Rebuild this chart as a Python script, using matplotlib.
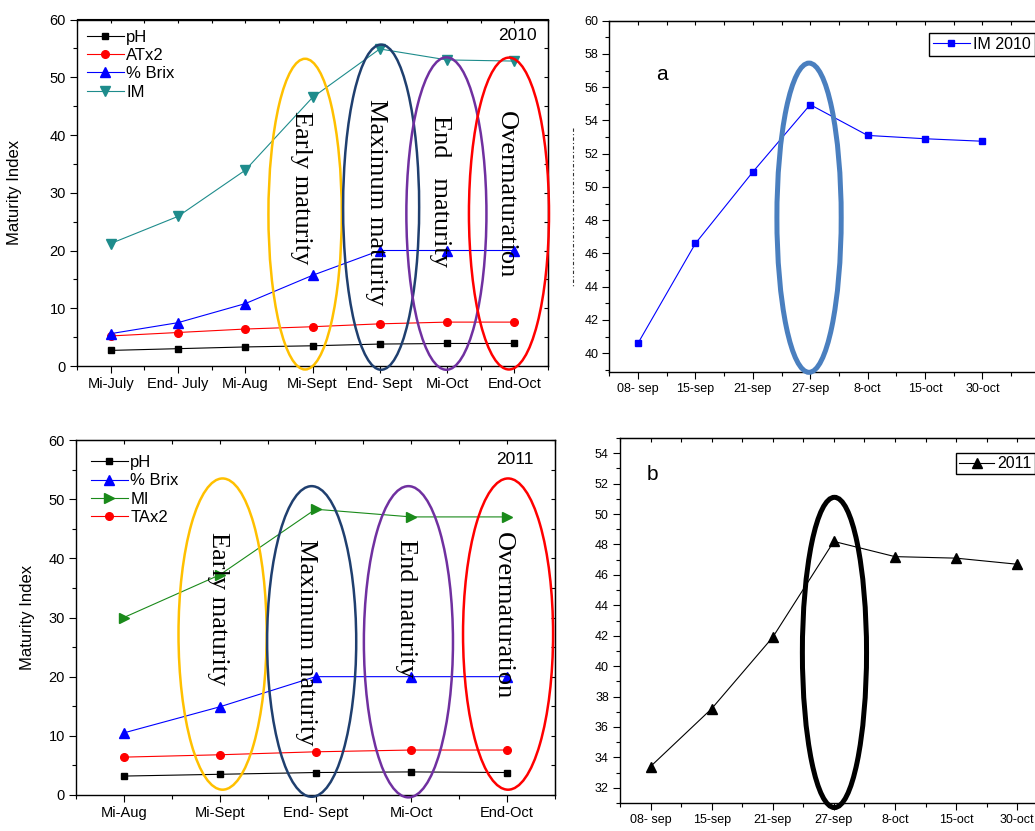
import matplotlib
matplotlib.use('Agg')
import matplotlib.pyplot as plt
from matplotlib.patches import Ellipse
from matplotlib.lines import Line2D
from matplotlib.ticker import MultipleLocator, FixedLocator, NullFormatter
import numpy as np

plt.rcParams['font.family'] = ['Liberation Sans', 'DejaVu Sans']

# ---------------- data ----------------
cat_2010 = ["Mi-July", "End- July", "Mi-Aug", "Mi-Sept", "End- Sept", "Mi-Oct", "End-Oct"]
ph_2010 = [2.7, 3.0, 3.3, 3.5, 3.8, 3.9, 3.9]
atx2_2010 = [5.2, 5.8, 6.4, 6.8, 7.3, 7.6, 7.6]
brix_2010 = [5.6, 7.5, 10.8, 15.7, 20.0, 20.0, 20.0]
im_2010 = [21.2, 25.9, 33.9, 46.5, 54.9, 53.0, 52.8]

cat_2011 = ["Mi-Aug", "Mi-Sept", "End- Sept", "Mi-Oct", "End-Oct"]
ph_2011 = [3.2, 3.5, 3.8, 3.9, 3.8]
brix_2011 = [10.5, 14.9, 20.0, 20.0, 20.0]
mi_2011 = [30.0, 37.2, 48.3, 47.0, 47.0]
tax2_2011 = [6.4, 6.8, 7.3, 7.6, 7.6]

dates = ["08- sep", "15-sep", "21-sep", "27-sep", "8-oct", "15-oct", "30-oct"]
im_a_2010 = [40.6, 46.6, 50.9, 54.95, 53.1, 52.9, 52.75]
im_b_2011 = [33.4, 37.2, 41.9, 48.2, 47.2, 47.1, 46.7]

stages_2010 = ["Early maturity", "Maximum maturity", "End   maturity", "Overmaturation"]
stages_2011 = ["Early maturity", "Maximum maturity", "End maturity", "Overmaturation"]
stage_colors = ["#FFC000", "#1F3F6F", "#7030A0", "#FF0000"]

# ---------------- figure ----------------
W, H = 1035, 831
fig = plt.figure(figsize=(W / 100, H / 100), dpi=100)
fig.patch.set_facecolor('white')


def add_ax(l, t, r, b):
    return fig.add_axes([l / W, 1 - b / H, (r - l) / W, (b - t) / H])


def style(ax, n, xmax, ymaj, ymin, labelsize):
    ax.set_xticks(range(n))
    ax.xaxis.set_minor_locator(FixedLocator(np.arange(-0.5, xmax + 0.01, 1)))
    ax.yaxis.set_major_locator(MultipleLocator(ymaj))
    ax.yaxis.set_minor_locator(MultipleLocator(ymin))
    ax.tick_params(which='both', direction='out', width=0.8, labelsize=labelsize,
                   colors='black')
    ax.tick_params(which='major', length=5, pad=3)
    ax.tick_params(which='minor', length=3)
    for s in ax.spines.values():
        s.set_linewidth(1.0)
    secx = ax.secondary_xaxis('top')
    secx.xaxis.set_major_locator(FixedLocator(list(range(n))))
    secx.xaxis.set_minor_locator(FixedLocator(np.arange(-0.5, xmax + 0.01, 1)))
    secx.xaxis.set_major_formatter(NullFormatter())
    secx.tick_params(which='both', direction='in', length=3, width=0.8)
    secy = ax.secondary_yaxis('right')
    secy.yaxis.set_major_locator(MultipleLocator(ymaj))
    secy.yaxis.set_minor_locator(MultipleLocator(ymin))
    secy.yaxis.set_major_formatter(NullFormatter())
    secy.tick_params(which='both', direction='in', length=3, width=0.8)


serif = 'Liberation Serif'

# ---------- panel 2010 ----------
ax1 = add_ax(77, 19.5, 548, 366)
x1 = np.arange(len(cat_2010))
ax1.plot(x1, ph_2010, color='black', marker='s', ms=5, lw=0.8, label='pH')
ax1.plot(x1, atx2_2010, color='red', marker='o', ms=5.5, lw=0.8, label='ATx2')
ax1.plot(x1, brix_2010, color='blue', marker='^', ms=6.5, lw=0.8, label='% Brix')
ax1.plot(x1, im_2010, color='#1E8C8C', marker='v', ms=6.5, lw=0.8, label='IM')
ax1.set_xlim(-0.5, 6.5)
ax1.set_ylim(0, 60)
ax1.set_xticklabels(cat_2010)
style(ax1, len(cat_2010), 6.5, 10, 5, 10.5)
ax1.set_ylabel('Maturity Index', fontsize=12, labelpad=20)
ell1 = [(2.89, 26.3, 1.09, 53.8), (4.02, 27.5, 1.13, 56.3),
        (4.99, 26.4, 1.19, 54.1), (5.92, 26.4, 1.19, 54.0)]
for (cx, cy, w, h), c in zip(ell1, stage_colors):
    ax1.add_patch(Ellipse((cx, cy), w, h, fill=False, edgecolor=c, lw=1.8,
                          clip_on=False, zorder=3))
txt1 = [(2.83, 30.8), (3.94, 28.3), (4.90, 30.3), (5.88, 29.6)]
for (tx, ty), s in zip(txt1, stages_2010):
    ax1.text(tx, ty, s, rotation=270, ha='center', va='center',
             fontsize=19, family=serif, zorder=4)
ax1.text(0.977, 0.975, '2010', transform=ax1.transAxes, ha='right', va='top',
         fontsize=12.5)
ax1.legend(loc='upper left', bbox_to_anchor=(0.0, 1.0), frameon=False,
           fontsize=12, handlelength=2.2, handletextpad=0.15, labelspacing=0.2,
           borderaxespad=0.3, borderpad=0.3)

# ---------- panel a ----------
ax2 = add_ax(609.3, 20.7, 1068.5, 371.5)
x2 = np.arange(len(dates))
ax2.plot(x2, im_a_2010, color='blue', marker='s', ms=5, lw=0.8, label='IM 2010')
ax2.set_xlim(-0.5, 7.5)
ax2.set_ylim(38.9, 60)
ax2.set_xticks(range(len(dates)))
style(ax2, len(dates), 7.5, 2, 1, 9)
ax2.set_xticklabels(dates)
ax2.add_patch(Ellipse((2.98, 48.15), 1.12, 18.6, fill=False, edgecolor='#4A7FBF',
                      lw=3.6, clip_on=False, zorder=3))
ax2.text(661.7 / W, 1 - 75 / H, 'a', transform=fig.transFigure, ha='center',
         va='center', fontsize=15)
ax2.legend(loc='upper left', bbox_to_anchor=(929 / W, 1 - 33 / H),
           bbox_transform=fig.transFigure, fontsize=11.5, handlelength=2.3,
           handletextpad=0.2, borderaxespad=0, borderpad=0.25, fancybox=False,
           edgecolor='black', framealpha=1)
fig.add_artist(Line2D([572.7 / W, 572.7 / W], [1 - 128 / H, 1 - 287 / H],
                      transform=fig.transFigure, color='#333333', lw=0.8,
                      linestyle=(0, (3, 2, 1, 2))))

# ---------- panel 2011 ----------
ax3 = add_ax(76, 440, 555, 795)
x3 = np.arange(len(cat_2011))
ax3.plot(x3, ph_2011, color='black', marker='s', ms=5, lw=0.8, label='pH')
ax3.plot(x3, brix_2011, color='blue', marker='^', ms=6.5, lw=0.8, label='% Brix')
ax3.plot(x3, mi_2011, color='#1A8A1A', marker='>', ms=6.5, lw=0.8, label='MI')
ax3.plot(x3, tax2_2011, color='red', marker='o', ms=5.5, lw=0.8, label='TAx2')
ax3.set_xlim(-0.5, 4.5)
ax3.set_ylim(0, 60)
ax3.set_xticks(range(len(cat_2011)))
style(ax3, len(cat_2011), 4.5, 10, 5, 10.5)
ax3.set_xticklabels(cat_2011)
ax3.set_ylabel('Maturity Index', fontsize=12, labelpad=10)
ell3 = [(1.03, 27.2, 0.92, 52.6), (1.96, 25.95, 0.93, 52.5),
        (2.97, 25.9, 0.93, 52.6), (4.01, 27.2, 0.94, 52.6)]
for (cx, cy, w, h), c in zip(ell3, stage_colors):
    ax3.add_patch(Ellipse((cx, cy), w, h, fill=False, edgecolor=c, lw=1.8,
                          clip_on=False, zorder=3))
txt3 = [(0.98, 31.5), (1.90, 25.9), (2.94, 31.5), (3.96, 30.4)]
for (tx, ty), s in zip(txt3, stages_2011):
    ax3.text(tx, ty, s, rotation=270, ha='center', va='center',
             fontsize=19, family=serif, zorder=4)
ax3.text(0.955, 0.965, '2011', transform=ax3.transAxes, ha='right', va='top',
         fontsize=12.5)
ax3.legend(loc='upper left', bbox_to_anchor=(0.0, 1.0), frameon=False,
           fontsize=12, handlelength=2.2, handletextpad=0.15, labelspacing=0.2,
           borderaxespad=0.3, borderpad=0.6)

# ---------- panel b ----------
ax4 = add_ax(620, 438, 1047.7, 803)
x4 = np.arange(len(dates))
ax4.plot(x4, im_b_2011, color='black', marker='^', ms=7, lw=0.8, label='2011')
ax4.set_xlim(-0.5, 6.5)
ax4.set_ylim(31, 55)
ax4.set_xticks(range(len(dates)))
style(ax4, len(dates), 6.5, 2, 1, 9)
ax4.set_xticklabels(dates)
ax4.add_patch(Ellipse((3.01, 40.9), 1.05, 20.4, fill=False, edgecolor='black',
                      lw=3.6, clip_on=False, zorder=3))
ax4.text(652 / W, 1 - 475 / H, 'b', transform=fig.transFigure, ha='center',
         va='center', fontsize=15)
ax4.legend(loc='upper left', bbox_to_anchor=(956 / W, 1 - 453 / H),
           bbox_transform=fig.transFigure, fontsize=11.5, handlelength=2.2,
           handletextpad=0.2, borderaxespad=0, borderpad=0.2, fancybox=False,
           edgecolor='black', framealpha=1)

fig.savefig('out.png', dpi=100)
